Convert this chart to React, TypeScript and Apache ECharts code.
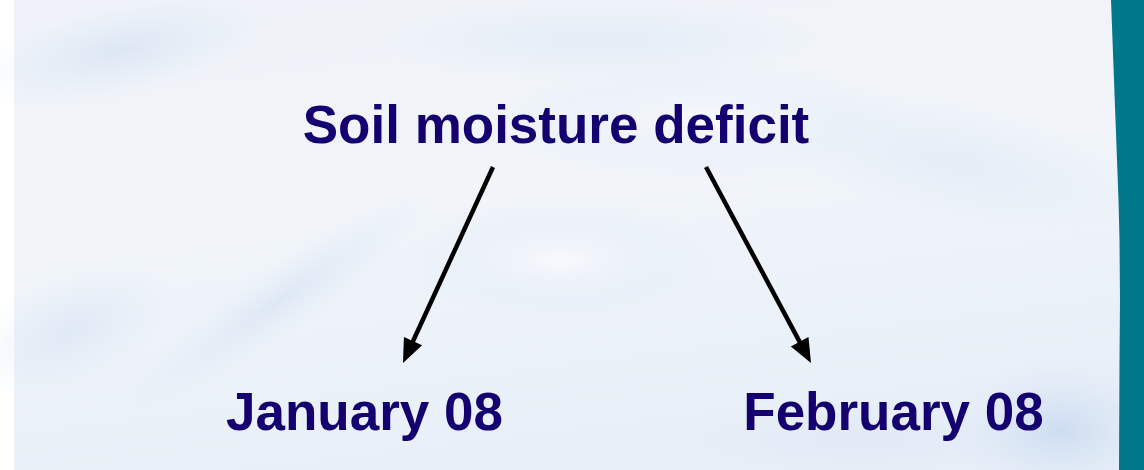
import React, { useEffect, useRef } from "react";
import * as echarts from "echarts";

const titleText = "Soil moisture deficit";
const monthLabels = ["January 08", "February 08"];

const TEXT_COLOR = "#14006e";
const TEAL = "#00788b";

function arrow(x1: number, y1: number, x2: number, y2: number) {
  const dx = x2 - x1, dy = y2 - y1;
  const len = Math.sqrt(dx * dx + dy * dy);
  const ux = dx / len, uy = dy / len;
  const hl = 24, hw = 10;
  const bx = x2 - ux * hl, by = y2 - uy * hl;
  const px = -uy, py = ux;
  return [
    { type: "line", shape: { x1, y1, x2: bx + ux * 2, y2: by + uy * 2 }, style: { stroke: "#000", lineWidth: 4.5 } },
    {
      type: "polygon",
      shape: { points: [[x2, y2], [bx + px * hw, by + py * hw], [bx - px * hw, by - py * hw]] },
      style: { fill: "#000" },
    },
  ];
}

function blob(cx: number, cy: number, rx: number, ry: number, color: string, rot = 0) {
  return {
    type: "ellipse",
    x: cx, y: cy, rotation: rot,
    shape: { cx: 0, cy: 0, rx, ry },
    style: {
      fill: {
        type: "radial", x: 0.5, y: 0.5, r: 0.5,
        colorStops: [{ offset: 0, color }, { offset: 1, color: "rgba(215,228,244,0)" }],
      },
    },
    silent: true,
  };
}

export default function App() {
  const ref = useRef<HTMLDivElement>(null);
  useEffect(() => {
    document.body.style.margin = "0";
    const chart = echarts.init(ref.current!, null, { renderer: "svg" });
    const elements: any[] = [
      { type: "rect", shape: { x: 0, y: 0, width: 1144, height: 470 }, style: { fill: "#ffffff" } },
      {
        type: "rect", shape: { x: 14, y: 0, width: 1130, height: 470 },
        style: {
          fill: {
            type: "linear", x: 0, y: 0, x2: 0.3, y2: 1,
            colorStops: [
              { offset: 0, color: "#eff3f9" },
              { offset: 0.5, color: "#f1f5fa" },
              { offset: 1, color: "#e8eff8" },
            ],
          },
        },
      },
      blob(120, 50, 150, 45, "rgba(208,221,240,0.6)", 0.2),
      blob(280, 300, 190, 35, "rgba(205,220,240,0.5)", 0.6),
      blob(70, 330, 110, 55, "rgba(208,222,241,0.5)", 0.4),
      blob(600, 40, 220, 40, "rgba(218,228,242,0.5)", 0),
      blob(950, 160, 200, 60, "rgba(215,226,242,0.45)", -0.2),
      blob(1060, 430, 110, 70, "rgba(198,216,239,0.8)", 0),
      blob(860, 440, 200, 40, "rgba(215,226,242,0.45)", 0),
      blob(560, 260, 160, 60, "rgba(250,251,254,0.8)", 0),
      blob(700, 120, 200, 60, "rgba(251,252,254,0.7)", 0),
      {
        type: "polygon",
        shape: {
          points: [
            [1111, 0], [1112.5, 40], [1114, 80], [1115.5, 120], [1117, 160], [1118.5, 200],
            [1119.5, 240], [1120, 300], [1119.5, 360], [1119, 470], [1144, 470], [1144, 0],
          ],
        },
        style: { fill: TEAL },
      },
      {
        type: "text", x: 556, y: 124,
        style: {
          text: titleText, fill: TEXT_COLOR, font: "bold 53px 'Liberation Sans', Arial, sans-serif",
          textAlign: "center", textVerticalAlign: "middle",
        },
      },
      {
        type: "text", x: 364.5, y: 411,
        style: {
          text: monthLabels[0], fill: TEXT_COLOR, font: "bold 53px 'Liberation Sans', Arial, sans-serif",
          textAlign: "center", textVerticalAlign: "middle",
        },
      },
      {
        type: "text", x: 893.5, y: 411,
        style: {
          text: monthLabels[1], fill: TEXT_COLOR, font: "bold 53px 'Liberation Sans', Arial, sans-serif",
          textAlign: "center", textVerticalAlign: "middle",
        },
      },
      ...arrow(493, 167, 403, 363),
      ...arrow(706, 167, 811, 363),
    ];
    chart.setOption({ animation: false, graphic: { elements } });
    return () => chart.dispose();
  }, []);
  return <div ref={ref} style={{ width: 1144, height: 470 }} />;
}
